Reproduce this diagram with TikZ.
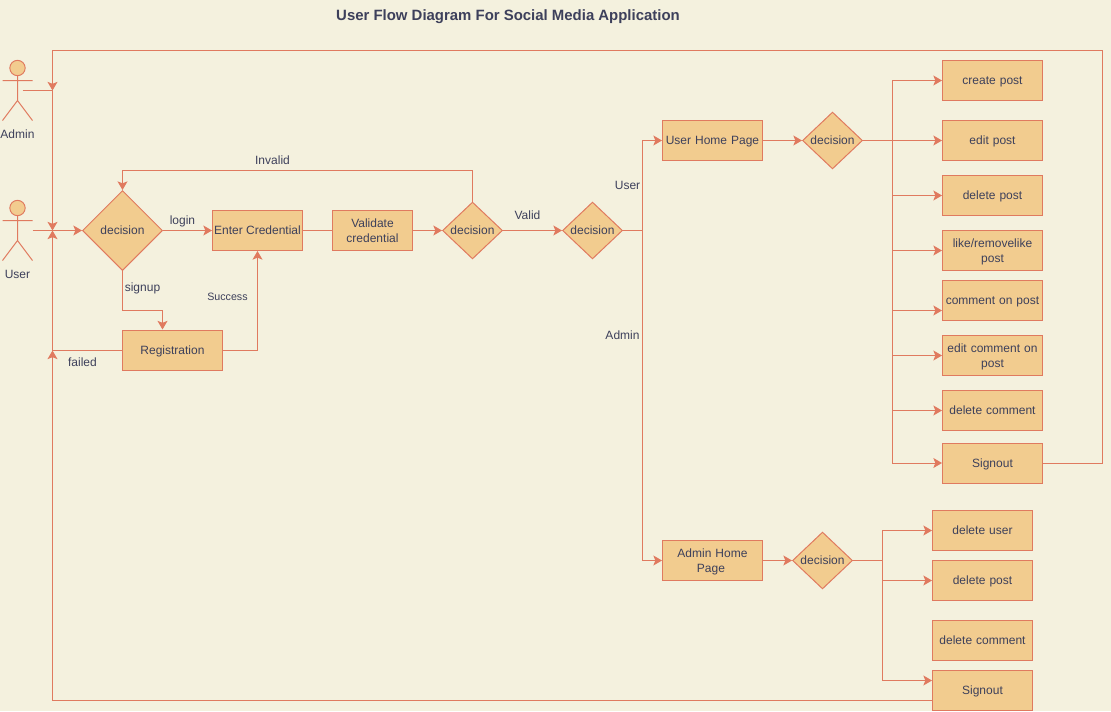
\documentclass[tikz,border=0pt]{standalone}
\usepackage{fontspec}
\setmainfont{Liberation Sans}
\usetikzlibrary{arrows.meta,shapes.geometric}
\definecolor{bgc}{HTML}{F4F1DE}
\definecolor{linec}{HTML}{E07A5F}
\definecolor{fillc}{HTML}{F2CC8F}
\definecolor{textc}{HTML}{3D405B}
\tikzset{
 x=0.75pt,y=-0.75pt,
 oneline/.style={text height=8pt,text depth=1.6pt},
 twoline/.style={text height=8pt,text depth=13pt},
 box/.style={draw=linec,fill=fillc,line width=0.75pt,rectangle,text=textc,font=\fontsize{9}{11.25}\selectfont,align=center,inner sep=0pt,oneline},
 bigbox/.style={box,minimum width=75pt,minimum height=30pt,text width=73pt},
 dia/.style={draw=linec,fill=fillc,line width=0.75pt,diamond,aspect=1,text=textc,font=\fontsize{9}{11.25}\selectfont,inner sep=0pt,oneline},
 lab/.style={text=textc,font=\fontsize{9}{11.25}\selectfont,inner sep=0pt,oneline},
 conn/.style={draw=linec,line width=0.75pt,-{Stealth[length=6.5pt,width=7.5pt,inset=1.5pt]}},
 plain/.style={draw=linec,line width=0.75pt},
 actorline/.style={draw=linec,line width=0.75pt},
}
\newcommand{\actorfig}[2]{%
 \draw[actorline,fill=fillc] (#1,#2-12.5) circle (5.75pt);
 \draw[actorline] (#1-15,#2) -- (#1+15,#2) (#1,#2-5) -- (#1,#2+20) (#1-15,#2+40) -- (#1,#2+20) -- (#1+15,#2+40);
}
\begin{document}
\begin{tikzpicture}
\useasboundingbox (0,0) rectangle (1111,711);
\fill[bgc] (0,0) rectangle (1111,711);
\begin{scope}[shift={(0.5,0.5)}]
\node[lab,font=\fontsize{11.2}{13}\selectfont\bfseries] (title) at (507.5,15.5) {User Flow Diagram For Social Media Application};
% actors
\actorfig{17}{80}
\actorfig{17}{220}
\node[lab] (adminl) at (17,133.5) {Admin};
\node[lab] (userl) at (17,273.5) {User};
\coordinate (adminp) at (22,90);
\coordinate (userp) at (32,230);
\coordinate (jadmin) at (52,90);
\coordinate (juser) at (52,230);
\coordinate (jfail) at (52,350);
\coordinate (tl) at (52,50);
\coordinate (tr) at (1102,50);
\coordinate (bl) at (52,700);
\coordinate (inv) at (122,170);
\coordinate (sg) at (162,310);
\coordinate (regin) at (162,329);
% nodes
\node[dia,minimum width=60pt,minimum height=60pt] (d1) at (122,230) {decision};
\node[box,minimum width=67.5pt,minimum height=30pt] (cred) at (257,230) {Enter Credential};
\node[box,minimum width=60pt,minimum height=30pt,text width=58pt,twoline] (valid) at (372,230) {Validate\\credential};
\node[box,minimum width=75pt,minimum height=30pt] (reg) at (172,350) {Registration};
\node[dia,minimum width=45pt,minimum height=41.25pt] (d2) at (472,230) {decision};
\node[dia,minimum width=45pt,minimum height=41.25pt] (d3) at (592,230) {decision};
\node[bigbox] (uhome) at (712,140) {User Home Page};
\node[bigbox,twoline] (ahome) at (712,560) {Admin Home\\Page\hspace*{2.25pt}};
\node[dia,minimum width=45pt,minimum height=41.25pt] (d4) at (832,140) {decision};
\node[dia,minimum width=45pt,minimum height=41.25pt] (d5) at (822,560) {decision};
\node[bigbox] (b1) at (992,80) {create post};
\node[bigbox] (b2) at (992,140) {edit post};
\node[bigbox] (b3) at (992,195) {delete post};
\node[bigbox,twoline] (b4) at (992,250) {like/removelike\\post};
\node[bigbox] (b5) at (992,300) {comment on post};
\node[bigbox,twoline] (b6) at (992,355) {edit comment on\\post};
\node[bigbox] (b7) at (992,410) {delete comment};
\node[bigbox] (b8) at (992,462.5) {Signout};
\node[bigbox] (a1) at (982,530) {delete user};
\node[bigbox] (a2) at (982,580) {delete post};
\node[bigbox] (a3) at (982,640) {delete comment};
\node[bigbox] (a4) at (982,690) {Signout};
% junctions
\coordinate (ub) at (892,140);
\coordinate (ab) at (882,560);
\coordinate (vs) at (642,230);
\coordinate (c5) at (892,310);
\coordinate (s4) at (882,680);
% connectors
\draw[conn] (userp) -- (d1.west);
\draw[conn] (adminp) -- (jadmin) -- (juser);
\draw[conn] (reg.west) -- (jfail) -- (juser);
\draw[conn] (b8.east) -- (b8.east -| tr) -- (tr) -- (tl) -- (jadmin);
\draw[conn] (a4.west |- bl) -- (bl) -- (jfail);
\draw[conn] (d1.east) -- (cred.west);
\draw[plain] (cred.east) -- (valid.west);
\draw[conn] (valid.east) -- (d2.west);
\draw[conn] (d2.east) -- (d3.west);
\draw[conn] (d2.north) |- (inv) -- (d1.north);
\draw[conn] (d1.south) |- (sg) -- (regin);
\draw[conn] (reg.east) -| (cred.south);
\draw[conn] (d3.east) -- (vs) |- (uhome.west);
\draw[conn] (vs) |- (ahome.west);
\draw[conn] (uhome.east) -- (d4.west);
\draw[conn] (ahome.east) -- (d5.west);
\draw[conn] (d4.east) -- (b2.west);
\foreach \n in {b1,b3,b4,b6,b7,b8} \draw[conn] (ub) |- (\n.west);
\draw[conn] (ub) -- (c5) -- (c5 -| b5.west);
\draw[conn] (d5.east) -- (ab) |- (a1.west);
\draw[conn] (ab) |- (a2.west);
\draw[conn] (ab) -- (s4) -- (s4 -| a4.west);
% labels
\node[lab] (l1) at (182,220) {login};
\node[lab] (l2) at (142,287) {signup};
\node[lab,font=\fontsize{8}{10}\selectfont] (l3) at (227,296) {Success};
\node[lab] (l4) at (82,361.5) {failed};
\node[lab] (l5) at (272,160) {Invalid};
\node[lab] (l6) at (527,215) {Valid};
\node[lab] (l7) at (627,185) {User};
\node[lab] (l8) at (622,335) {Admin};
\end{scope}
\end{tikzpicture}
\end{document}
